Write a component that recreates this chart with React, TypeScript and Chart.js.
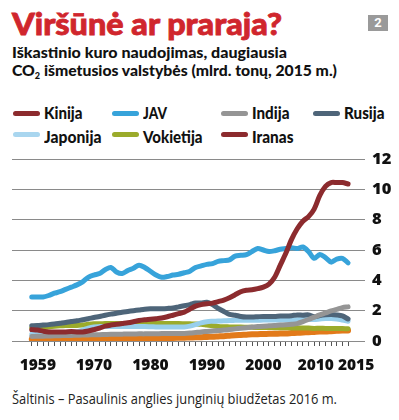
import React, { useEffect, useLayoutEffect, useRef } from 'react';
import { Chart, registerables } from 'chart.js';
Chart.register(...registerables);

// ---------- data ----------
const years = [
  1959, 1960, 1961, 1962, 1963, 1964, 1965, 1966, 1967, 1968, 1969,
  1970, 1971, 1972, 1973, 1974, 1975, 1976, 1977, 1978, 1979,
  1980, 1981, 1982, 1983, 1984, 1985, 1986, 1987, 1988, 1989,
  1990, 1991, 1992, 1993, 1994, 1995, 1996, 1997, 1998, 1999,
  2000, 2001, 2002, 2003, 2004, 2005, 2006, 2007, 2008, 2009,
  2010, 2011, 2012, 2013, 2014, 2015,
];
const xTickLabels = [1959, 1970, 1980, 1990, 2000, 2010, 2015];
const yTickValues = [0, 2, 4, 6, 8, 10, 12];

const kinija = [
  0.75, 0.72, 0.65, 0.6, 0.6, 0.6, 0.6, 0.62, 0.6, 0.6, 0.66,
  0.75, 0.85, 0.98, 1.05, 1.1, 1.15, 1.2, 1.27, 1.35, 1.4,
  1.43, 1.47, 1.52, 1.6, 1.7, 1.8, 1.9, 2.1, 2.3, 2.4,
  2.45, 2.5, 2.6, 2.7, 2.85, 3.05, 3.25, 3.35, 3.38, 3.45,
  3.55, 3.75, 4.2, 5.0, 5.8, 6.7, 7.4, 7.9, 8.2, 8.7,
  9.6, 10.2, 10.45, 10.45, 10.45, 10.35,
];
const jav = [
  2.9, 2.9, 2.9, 3.0, 3.15, 3.25, 3.4, 3.55, 3.7, 3.9, 4.2,
  4.35, 4.45, 4.7, 4.85, 4.55, 4.45, 4.65, 4.8, 5.0, 4.85,
  4.6, 4.35, 4.2, 4.25, 4.35, 4.4, 4.5, 4.6, 4.85, 4.95,
  5.05, 5.1, 5.25, 5.3, 5.35, 5.6, 5.65, 5.7, 5.9, 6.1,
  6.0, 5.9, 5.95, 6.05, 6.1, 6.15, 6.1, 6.2, 5.9, 5.45,
  5.7, 5.5, 5.2, 5.4, 5.45, 5.15,
];
const indija = [
  0.3, 0.31, 0.32, 0.33, 0.34, 0.35, 0.36, 0.37, 0.38, 0.39, 0.4,
  0.41, 0.42, 0.43, 0.44, 0.44, 0.45, 0.46, 0.46, 0.47, 0.47,
  0.48, 0.48, 0.49, 0.49, 0.5, 0.5, 0.5, 0.52, 0.56, 0.6,
  0.63, 0.66, 0.69, 0.72, 0.76, 0.8, 0.84, 0.88, 0.92, 0.95,
  0.98, 1.0, 1.02, 1.05, 1.07, 1.1, 1.15, 1.28, 1.42, 1.57,
  1.72, 1.85, 1.98, 2.08, 2.2, 2.25,
];
const rusija = [
  1.0, 1.02, 1.05, 1.08, 1.12, 1.17, 1.22, 1.28, 1.33, 1.4, 1.47,
  1.55, 1.62, 1.7, 1.77, 1.83, 1.9, 1.95, 2.0, 2.05, 2.1,
  2.12, 2.12, 2.13, 2.15, 2.18, 2.25, 2.32, 2.4, 2.5, 2.5,
  2.55, 2.4, 2.15, 1.95, 1.75, 1.7, 1.62, 1.58, 1.58, 1.6,
  1.62, 1.62, 1.62, 1.65, 1.65, 1.67, 1.72, 1.7, 1.72, 1.6,
  1.68, 1.73, 1.75, 1.72, 1.65, 1.45,
];
const japonija = [
  0.45, 0.46, 0.48, 0.49, 0.5, 0.52, 0.54, 0.57, 0.62, 0.72, 0.85,
  0.93, 0.95, 0.96, 0.96, 0.95, 0.95, 0.95, 0.95, 0.95, 0.95,
  0.94, 0.93, 0.92, 0.92, 0.93, 0.93, 0.93, 0.98, 1.08, 1.2,
  1.27, 1.3, 1.32, 1.33, 1.35, 1.36, 1.37, 1.37, 1.37, 1.37,
  1.38, 1.38, 1.38, 1.39, 1.39, 1.4, 1.4, 1.42, 1.43, 1.42,
  1.45, 1.48, 1.48, 1.45, 1.38, 1.3,
];
const vokietija = [
  0.85, 0.87, 0.9, 0.93, 0.97, 1.0, 1.02, 1.03, 1.03, 1.06, 1.1,
  1.13, 1.14, 1.15, 1.16, 1.16, 1.15, 1.16, 1.16, 1.17, 1.18,
  1.17, 1.16, 1.15, 1.15, 1.15, 1.15, 1.14, 1.13, 1.12, 1.1,
  1.05, 1.0, 0.96, 0.94, 0.93, 0.92, 0.92, 0.91, 0.9, 0.89,
  0.89, 0.89, 0.88, 0.88, 0.87, 0.86, 0.86, 0.85, 0.85, 0.83,
  0.84, 0.83, 0.83, 0.83, 0.82, 0.81,
];
const iranas = [
  0.12, 0.12, 0.12, 0.13, 0.13, 0.13, 0.13, 0.14, 0.14, 0.14, 0.14,
  0.15, 0.15, 0.15, 0.16, 0.16, 0.16, 0.17, 0.17, 0.17, 0.18,
  0.18, 0.19, 0.19, 0.2, 0.2, 0.21, 0.22, 0.23, 0.24, 0.25,
  0.27, 0.28, 0.3, 0.32, 0.35, 0.38, 0.4, 0.42, 0.44, 0.45,
  0.46, 0.47, 0.48, 0.49, 0.5, 0.52, 0.54, 0.56, 0.58, 0.6,
  0.62, 0.63, 0.65, 0.67, 0.69, 0.7,
];

const seriesNames = ['Kinija', 'JAV', 'Indija', 'Rusija', 'Japonija', 'Vokietija', 'Iranas'];
const seriesValues = [kinija, jav, indija, rusija, japonija, vokietija, iranas];

// ---------- style ----------
const lineColors = ['#8c2b2e', '#37a3da', '#959595', '#4e6579', '#98cfec', '#9bab2b', '#e27a1a'];
const legendColors = ['#8c2b2e', '#37a3da', '#959595', '#4e6579', '#a9d6ef', '#9bab2b', '#8c2b2e'];
const lineWidths = [5, 5, 5, 5, 5, 5, 6];
const legendLayout = [
  { x: 13, row: 0, w: 38.5 },
  { x: 112, row: 0, w: 24 },
  { x: 221, row: 0, w: 37.5 },
  { x: 313, row: 0, w: 40.5 },
  { x: 13, row: 1, w: 57.5 },
  { x: 112, row: 1, w: 59.5 },
  { x: 221, row: 1, w: 41.5 },
];
const xLabelPad: Record<number, [number, number]> = {
  1959: [3, 0], 2010: [0, 2], 2015: [4, 0],
};

const HEAVY = "Lato, Roboto, sans-serif";
const BOLD = "Roboto, 'Open Sans', sans-serif";
const TICKFONT = "'Open Sans', Roboto, sans-serif";

function Fit({ w, style, children }: { w: number; style?: React.CSSProperties; children: React.ReactNode }) {
  const ref = useRef<HTMLSpanElement>(null);
  useLayoutEffect(() => {
    const el = ref.current;
    if (!el) return;
    el.style.transform = 'none';
    const nat = el.getBoundingClientRect().width;
    if (nat > 0) el.style.transform = `scaleX(${w / nat})`;
  });
  return (
    <span
      ref={ref}
      style={{ display: 'inline-block', whiteSpace: 'nowrap', transformOrigin: 'left top', ...style }}
    >
      {children}
    </span>
  );
}

function LineChart() {
  const canvasRef = useRef<HTMLCanvasElement>(null);
  useEffect(() => {
    const canvas = canvasRef.current;
    if (!canvas) return;
    const chart = new Chart(canvas, {
      type: 'line',
      data: {
        datasets: seriesNames.map((name, i) => ({
          label: name,
          data: years.map((y, j) => ({ x: y, y: seriesValues[i][j] })),
          borderColor: lineColors[i],
          borderWidth: lineWidths[i],
          pointRadius: 0,
          fill: false,
          tension: 0.3,
          borderCapStyle: 'round',
          borderJoinStyle: 'round',
        })),
      },
      options: {
        animation: false,
        responsive: false,
        maintainAspectRatio: false,
        devicePixelRatio: 1,
        layout: { padding: { left: 12, top: 9, right: 0, bottom: 0 } },
        plugins: { legend: { display: false }, tooltip: { enabled: false }, title: { display: false } },
        scales: {
          x: {
            type: 'linear',
            min: 1955.5,
            max: 2018,
            afterBuildTicks: (s: any) => {
              s.ticks = years.map((v) => ({ value: v }));
            },
            afterFit: (s: any) => {
              s.height = 39;
              s.paddingLeft = 0;
              s.paddingRight = 0;
            },
            grid: { drawOnChartArea: false, drawTicks: true, tickLength: 5, color: '#555', lineWidth: 1 },
            border: { display: false },
            ticks: {
              autoSkip: false,
              maxRotation: 0,
              minRotation: 0,
              padding: 10,
              color: '#111',
              font: { family: TICKFONT, weight: '800', size: 15.5 },
              callback: (v: any) => {
                const n = Number(v);
                if (!xTickLabels.includes(n)) return '';
                const p = xLabelPad[n] || [0, 0];
                return ' '.repeat(p[0]) + String(n) + ' '.repeat(p[1]);
              },
            },
          },
          y: {
            position: 'right',
            min: 0,
            max: 12,
            afterBuildTicks: (s: any) => {
              s.ticks = yTickValues.map((v) => ({ value: v }));
            },
            afterFit: (s: any) => {
              s.width = 34;
              s.paddingTop = 9;
              s.paddingBottom = 9;
            },
            grid: { drawTicks: false, color: '#8a8a8a', lineWidth: 1 },
            border: { display: false },
            ticks: {
              padding: 7,
              color: '#111',
              font: { family: TICKFONT, weight: '800', size: 16.5 },
            },
          },
        },
      },
    } as any);
    return () => chart.destroy();
  }, []);
  return (
    <canvas
      ref={canvasRef}
      width={399}
      height={230}
      style={{ position: 'absolute', left: 0, top: 150, width: 399, height: 230 }}
    />
  );
}

export default function App() {
  return (
    <div style={{ position: 'absolute', left: 0, top: 0, width: 399, height: 420, background: '#fff', overflow: 'hidden' }}>
      <div style={{ position: 'absolute', left: 12, top: 8, fontFamily: HEAVY, fontWeight: 900, fontSize: 30, lineHeight: '30px', color: '#d0262d', WebkitTextStroke: '0.8px #d0262d' } as any}>
        <Fit w={270}>Viršūnė ar praraja?</Fit>
      </div>
      <div style={{ position: 'absolute', left: 368, top: 15, width: 20, height: 16, background: '#9a9a9a', color: '#fff', fontFamily: BOLD, fontWeight: 700, fontSize: 13, lineHeight: '16px', textAlign: 'center' }}>
        2
      </div>
      <div style={{ position: 'absolute', left: 12, top: 44.5, fontFamily: HEAVY, fontWeight: 900, fontSize: 15.5, lineHeight: '15.5px', color: '#111' }}>
        <Fit w={275}>Iškastinio kuro naudojimas, daugiausia</Fit>
      </div>
      <div style={{ position: 'absolute', left: 12, top: 63, fontFamily: HEAVY, fontWeight: 900, fontSize: 15.5, lineHeight: '15.5px', color: '#111' }}>
        <Fit w={325}>
          CO<sub style={{ fontSize: 9, verticalAlign: '-3px', lineHeight: 0 }}>2</sub> išmetusios valstybės (mlrd. tonų, 2015 m.)
        </Fit>
      </div>
      {seriesNames.map((name, i) => {
        const L = legendLayout[i];
        const top = L.row === 0 ? 104.5 : 129;
        const swatchY = L.row === 0 ? 110.5 : 131.5;
        return (
          <React.Fragment key={name}>
            <div style={{ position: 'absolute', left: L.x, top: swatchY, width: 27, height: 5, borderRadius: 3, background: legendColors[i] }} />
            <div style={{ position: 'absolute', left: L.x + 31, top, fontFamily: HEAVY, fontWeight: 900, fontSize: 16.5, lineHeight: '16.5px', color: '#111' }}>
              <Fit w={L.w}>{name}</Fit>
            </div>
          </React.Fragment>
        );
      })}
      <LineChart />
      <div style={{ position: 'absolute', left: 12, top: 391.5, fontFamily: "'Open Sans', Roboto, sans-serif", fontWeight: 400, fontSize: 14, lineHeight: '14px', color: '#222' }}>
        <Fit w={325}>Šaltinis – Pasaulinis anglies junginių biudžetas 2016 m.</Fit>
      </div>
    </div>
  );
}
